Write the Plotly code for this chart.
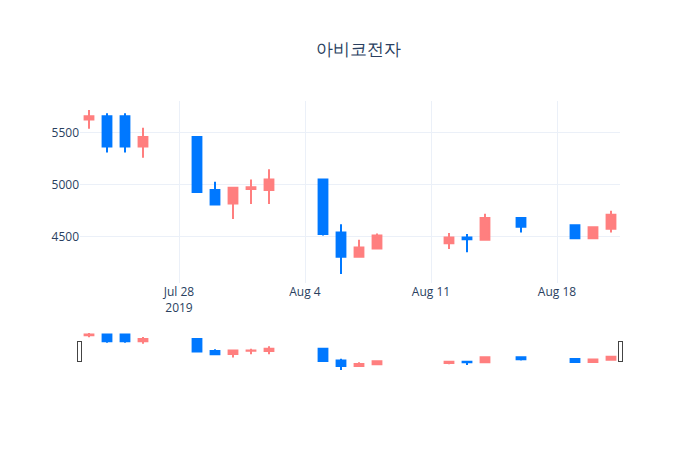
import plotly.graph_objects as go

dates = [
    "2019-07-23", "2019-07-24", "2019-07-25", "2019-07-26",
    "2019-07-29", "2019-07-30", "2019-07-31", "2019-08-01", "2019-08-02",
    "2019-08-05", "2019-08-06", "2019-08-07", "2019-08-08",
    "2019-08-12", "2019-08-13", "2019-08-14", "2019-08-16",
    "2019-08-19", "2019-08-20", "2019-08-21",
]
open_ = [5630, 5660, 5660, 5370, 5460, 4950, 4820, 4960, 4950,
         5050, 4540, 4305, 4385, 4435, 4490, 4470, 4680, 4610, 4485, 4575]
high = [5720, 5690, 5690, 5550, 5460, 5030, 4970, 5050, 5150,
        5050, 4620, 4470, 4530, 4535, 4525, 4720, 4680, 4620, 4600, 4750]
low = [5540, 5310, 5310, 5260, 4930, 4810, 4670, 4815, 4815,
       4510, 4140, 4300, 4385, 4380, 4350, 4470, 4540, 4485, 4485, 4540]
close = [5660, 5370, 5370, 5460, 4930, 4810, 4970, 4975, 5050,
         4525, 4305, 4395, 4510, 4490, 4475, 4680, 4595, 4485, 4590, 4710]

fig = go.Figure(
    go.Candlestick(
        x=dates,
        open=open_,
        high=high,
        low=low,
        close=close,
        increasing_line_color="#ff7f7f",
        increasing_fillcolor="#ff7f7f",
        decreasing_line_color="#0078ff",
        decreasing_fillcolor="#0078ff",
    )
)

fig.update_layout(
    title=dict(text="아비코전자", x=0.5),
    template="plotly_white",
    width=700,
    height=450,
    margin=dict(l=72, r=88, t=93, b=87),
)

fig.write_html("out.html")
